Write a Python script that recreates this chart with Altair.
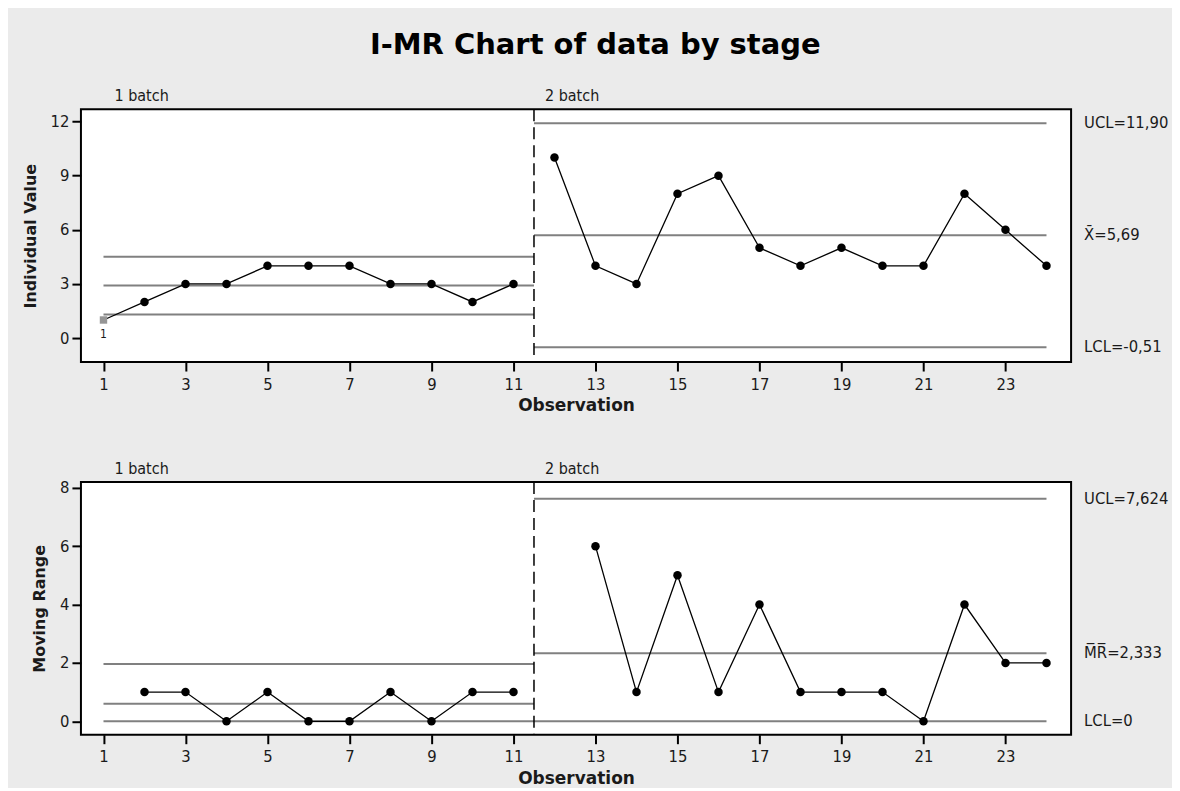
import altair as alt
import pandas as pd

# ---------------- data ----------------
obs = list(range(1, 25))
batch = ["1 batch"] * 11 + ["2 batch"] * 13
individual = [1, 2, 3, 3, 4, 4, 4, 3, 3, 2, 3,
              10, 4, 3, 8, 9, 5, 4, 5, 4, 4, 8, 6, 4]
moving_range = [None, 1, 1, 0, 1, 0, 0, 1, 0, 1, 1,
                None, 6, 1, 5, 1, 4, 1, 1, 1, 0, 4, 2, 2]
flagged_obs = [1]
flag_label = ["1"]

batch_names = ["1 batch", "2 batch"]
batch_start = [1, 11.5]
batch_end = [11.5, 24]
divider = [11.5]

i_ucl = [4.50, 11.90]
i_mean = [2.91, 5.69]
i_lcl = [1.31, -0.51]
i_labels = ["UCL=11,90", "X\u0304=5,69", "LCL=-0,51"]

mr_ucl = [1.96, 7.624]
mr_mean = [0.60, 2.333]
mr_lcl = [0.0, 0.0]
mr_labels = ["UCL=7,624", "M\u0305R\u0305=2,333", "LCL=0"]

x_ticks = [1, 3, 5, 7, 9, 11, 13, 15, 17, 19, 21, 23]
i_ticks = [0, 3, 6, 9, 12]
mr_ticks = [0, 2, 4, 6, 8]

# ---------------- style ----------------
W, H = 991, 253
FONT = "DejaVu Sans Condensed, DejaVu Sans, sans-serif"
BOLD = "DejaVu Sans, sans-serif"
TXT = "#1a1a1a"
LIM = "#808080"
XDOM = [0.45, 24.6]


def panel(values, ucl, mean, lcl, ydom, yticks, ytitle, right_labels, flags):
    df = pd.DataFrame({"obs": obs, "batch": batch, "value": values}).dropna()
    xs = alt.Scale(domain=XDOM, nice=False, zero=False)
    ys = alt.Scale(domain=ydom, nice=False, zero=False)
    xa = alt.Axis(values=x_ticks, title="Observation", format="d")
    ya = alt.Axis(values=yticks, title=ytitle, format="d")

    def X(f):
        return alt.X(f, scale=xs, axis=xa)

    def Y(f):
        return alt.Y(f, scale=ys, axis=ya)

    rows = []
    for i, b in enumerate(batch_names):
        for kind, arr in (("ucl", ucl), ("mean", mean), ("lcl", lcl)):
            rows.append({"batch": b, "start": batch_start[i], "end": batch_end[i],
                         "kind": kind, "value": arr[i]})
    lim = pd.DataFrame(rows)

    rules = alt.Chart(lim).mark_rule(color=LIM, strokeWidth=2).encode(
        x=X("start:Q"), x2="end:Q", y=Y("value:Q"))

    div = alt.Chart(pd.DataFrame({"x": divider})).mark_rule(
        color="black", strokeWidth=1.5, strokeDash=[12, 6]
    ).encode(x=X("x:Q"), y=alt.value(0), y2=alt.value(H))

    line = alt.Chart(df).mark_line(color="black", strokeWidth=1.3).encode(
        x=X("obs:Q"), y=Y("value:Q"), detail="batch:N")

    normal = df[~df["obs"].isin(flags)]
    pts = alt.Chart(normal).mark_point(
        shape="circle", filled=True, color="black", opacity=1, size=72
    ).encode(x=X("obs:Q"), y=Y("value:Q"))

    layers = [rules, div, line, pts]

    fl = df[df["obs"].isin(flags)].copy()
    if len(fl):
        fl["label"] = flag_label[: len(fl)]
        sq = alt.Chart(fl).mark_point(
            shape="square", filled=True, color="#959595", opacity=1, size=55
        ).encode(x=X("obs:Q"), y=Y("value:Q"))
        fl_txt = alt.Chart(fl).mark_text(
            font=FONT, fontSize=12, color=TXT, dy=14, baseline="middle"
        ).encode(x=X("obs:Q"), y=Y("value:Q"), text="label:N")
        layers += [sq, fl_txt]

    bl = pd.DataFrame({"name": batch_names, "start": batch_start})
    btxt = alt.Chart(bl).mark_text(
        font=FONT, fontSize=16, color=TXT, align="left", baseline="middle", dx=11
    ).encode(x=X("start:Q"), y=alt.value(-13), text="name:N")

    rl = pd.DataFrame({"label": right_labels, "value": [ucl[1], mean[1], lcl[1]]})
    rtxt = alt.Chart(rl).mark_text(
        font=FONT, fontSize=16.5, color=TXT, align="left", baseline="middle"
    ).encode(x=alt.value(W + 13), y=Y("value:Q"), text="label:N")

    layers += [btxt, rtxt]
    return alt.layer(*layers).properties(width=W, height=H)


top = panel(individual, i_ucl, i_mean, i_lcl, [-1.33, 12.68], i_ticks,
            "Individual Value", i_labels, flagged_obs)
bottom = panel(moving_range, mr_ucl, mr_mean, mr_lcl, [-0.46, 8.2], mr_ticks,
               "Moving Range", mr_labels, [])

chart = alt.vconcat(top, bottom, spacing=45).properties(
    title=alt.TitleParams("I-MR Chart of data by stage", font=BOLD, fontSize=29,
                          fontWeight="bold", color="black", anchor="middle", offset=27),
    background="#ebebeb",
    padding={"left": 13, "top": 23, "right": 2, "bottom": 0},
).configure_view(
    fill="white", stroke="black", strokeWidth=2
).configure_axis(
    domain=False, grid=False, ticks=True, tickSize=9, tickColor="black", tickWidth=2,
    labelFont=FONT, labelFontSize=16.5, labelColor=TXT, labelPadding=3,
    titleFont=BOLD, titleFontSize=16, titleFontWeight="bold", titleColor=TXT,
).configure_axisX(
    labelPadding=5, titlePadding=5, titleFontSize=17
).configure_axisY(
    titlePadding=12
)

chart.save("out.html", embed_options={"renderer": "svg", "actions": False})
